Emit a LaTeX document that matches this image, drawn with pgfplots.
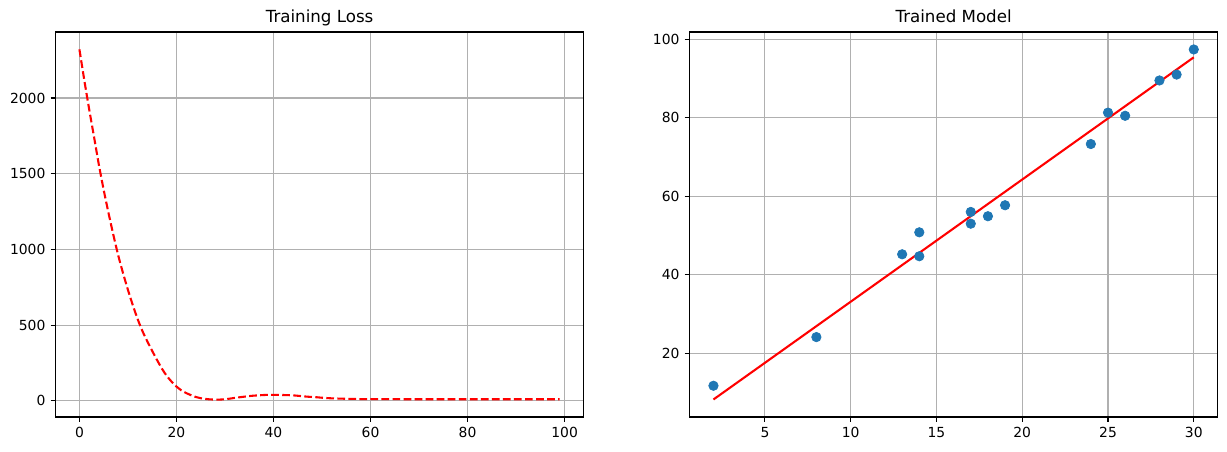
\documentclass[border=0pt]{standalone}
\usepackage{fontspec}
\setmainfont{DejaVu Sans}
\usepackage{pgfplots}
\pgfplotsset{compat=1.18}
\definecolor{gridgray}{RGB}{176,176,176}
\definecolor{mplblue}{RGB}{31,119,180}
\pgfplotsset{
  mplstyle/.style={
    scale only axis,
    anchor=south west,
    width=380.4pt, height=277.2pt,
    axis line style={line width=0.8pt, black},
    tick align=outside,
    xtick pos=bottom, ytick pos=left,
    major tick length=3.5pt,
    tick style={line width=0.8pt, black},
    grid=major,
    major grid style={line width=0.8pt, gridgray},
    /pgf/number format/assume math mode=true,
    /pgf/number format/1000 sep={},
    ticklabel style={font=\fontsize{10}{12}\selectfont},
    xticklabel style={inner sep=0pt, yshift=-3.5pt},
    yticklabel style={inner sep=0pt, xshift=-3.5pt},
    title style={at={(0.5,1)}, anchor=base, yshift=1pt, inner sep=0pt, font=\fontsize{12}{14}\selectfont},
  }
}
\begin{document}
\begin{tikzpicture}
\useasboundingbox (0,0) rectangle (883.44pt,324.72pt);
\begin{axis}[mplstyle,
  at={(39.9pt,24.5pt)},
  title={Training Loss},
  xmin=-4.95, xmax=103.95, ymin=-106, ymax=2436,
  xtick={0,20,40,60,80,100},
  ytick={0,500,1000,1500,2000},
]
\addplot[red, line width=1.5pt, dash pattern=on 5.55pt off 2.4pt, smooth, tension=0.3] coordinates {
(0,2321) (1,2118) (2,1927) (3,1745) (4,1560) (5,1393) (6,1240) (7,1095) (8,960) (9,842)
(10,733) (11,632) (12,540) (13,460) (14,393) (15,330) (16,270) (17,213) (18,165) (19,127)
(20,95) (21,70) (22,52) (23,38) (24,26) (25,18) (26,13) (27,10) (28,9) (29,9)
(30,11) (31,15) (32,20) (33,24) (34,28) (35,32) (36,35) (37,37) (38,39) (39,40)
(40,40) (41,40) (42,39) (43,38) (44,37) (45,34) (46,31) (47,28) (48,26) (49,24)
(50,21) (51,19) (52,17) (53,16) (54,15) (55,14) (56,13) (57,13) (58,12) (59,12)
(60,12) (65,11.5) (70,11) (75,11) (80,11) (85,11) (90,11) (95,11) (99,11)
};
\end{axis}
\begin{axis}[mplstyle,
  at={(496.4pt,24.5pt)},
  title={Trained Model},
  xmin=0.6, xmax=31.4, ymin=3.74, ymax=101.86,
  xtick={5,10,15,20,25,30},
  ytick={20,40,60,80,100},
]
\addplot[only marks, mark=*, mark size=3.4pt, color=mplblue, fill=mplblue, mark options={solid, line width=0.5pt}] coordinates {
(2,11.7) (8,24.1) (13,45.2) (14,50.8) (14,44.7) (17,56.0) (17,53.0) (18,54.9) (19,57.7)
(24,73.3) (25,81.3) (26,80.5) (28,89.5) (29,91.0) (30,97.4)
};
\addplot[red, line width=1.5pt] coordinates {(2,8.2) (30,95.4)};
\end{axis}
\end{tikzpicture}
\end{document}
